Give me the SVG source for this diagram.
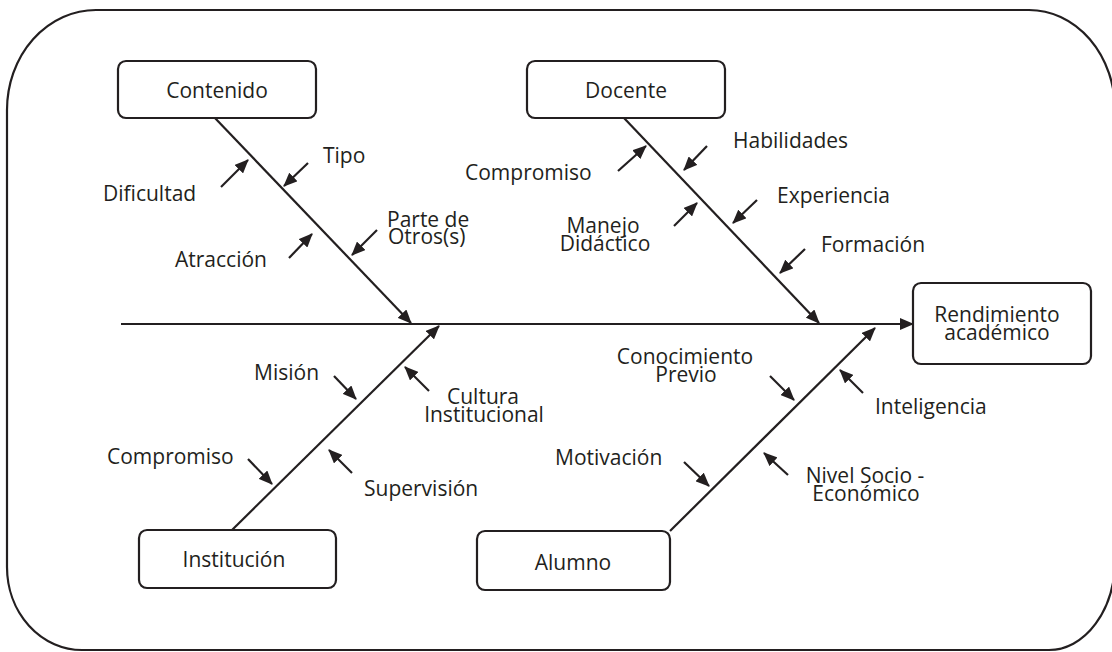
<svg xmlns="http://www.w3.org/2000/svg" width="1112" height="652" viewBox="0 0 1112 652">
<defs>
<marker id="ah" viewBox="0 0 14 12" refX="13" refY="6" markerWidth="14" markerHeight="12" markerUnits="userSpaceOnUse" orient="auto">
<path d="M0,0 L14,6 L0,12 Z" fill="#231f20"/>
</marker>
<style>
.t{font-family:"Open Sans","Liberation Sans",sans-serif;font-size:21px;fill:#231f20}
.m{text-anchor:middle}
.box{fill:#fff;stroke:#231f20;stroke-width:2.2}
.bone{stroke:#231f20;stroke-width:2.2;fill:none;marker-end:url(#ah)}
.sa{stroke:#231f20;stroke-width:2.2;fill:none;marker-end:url(#ah)}
</style>
</defs>
<rect width="1112" height="652" fill="#fff"/>
<path d="M96,10 H1029 A86,100 0 0 1 1115,110 V560 A66,90 0 0 1 1049,650 H82 A75,83 0 0 1 7,567 V110 A89,100 0 0 1 96,10 Z" fill="none" stroke="#231f20" stroke-width="2.2"/>

<g id="connectors">
<line class="bone" x1="121" y1="324" x2="913" y2="324"/>
<line class="bone" x1="214" y1="117" x2="411" y2="323"/>
<line class="bone" x1="624" y1="118" x2="819" y2="323"/>
<line class="bone" x1="232" y1="530" x2="439" y2="326"/>
<line class="bone" x1="670" y1="531" x2="875" y2="328"/>
<line class="sa" x1="221" y1="187" x2="248" y2="160"/>
<line class="sa" x1="308" y1="163" x2="284" y2="186"/>
<line class="sa" x1="289" y1="258" x2="312" y2="234"/>
<line class="sa" x1="377" y1="230" x2="352" y2="255"/>
<line class="sa" x1="618" y1="171" x2="646" y2="146"/>
<line class="sa" x1="707" y1="146" x2="684" y2="170"/>
<line class="sa" x1="757" y1="200" x2="733" y2="223"/>
<line class="sa" x1="674" y1="226" x2="697" y2="203"/>
<line class="sa" x1="805" y1="249" x2="780" y2="273"/>
<line class="sa" x1="334" y1="376" x2="356" y2="399"/>
<line class="sa" x1="429" y1="391" x2="405" y2="367"/>
<line class="sa" x1="248" y1="459" x2="272" y2="484"/>
<line class="sa" x1="352" y1="473" x2="329" y2="450"/>
<line class="sa" x1="770" y1="376" x2="794" y2="400"/>
<line class="sa" x1="863" y1="393" x2="840" y2="370"/>
<line class="sa" x1="684" y1="462" x2="709" y2="486"/>
<line class="sa" x1="788" y1="475" x2="764" y2="453"/>
</g>

<g id="contenido">
<rect class="box" x="118" y="61" width="198" height="57" rx="8"/>
<text class="t m" x="217" y="98">Contenido</text>
</g>
<g id="docente">
<rect class="box" x="527" y="61" width="198" height="57" rx="8"/>
<text class="t m" x="626" y="98">Docente</text>
</g>
<g id="rendimiento">
<rect class="box" x="913" y="283" width="178" height="81" rx="8"/>
<text class="t m" x="997" y="322">Rendimiento</text>
<text class="t m" x="997" y="340">académico</text>
</g>
<g id="institucion">
<rect class="box" x="139" y="530" width="197" height="58" rx="8"/>
<text class="t m" x="234" y="567">Institución</text>
</g>
<g id="alumno">
<rect class="box" x="477" y="531" width="193" height="59" rx="8"/>
<text class="t m" x="573" y="570">Alumno</text>
</g>

<g id="labels-contenido">
<text class="t" x="323" y="163">Tipo</text>
<text class="t" x="103" y="201">Dificultad</text>
<text class="t" x="175" y="267">Atracción</text>
<text class="t" x="387" y="227">Parte de</text>
<text class="t" x="388" y="244">Otros(s)</text>
</g>
<g id="labels-docente">
<text class="t" x="465" y="180">Compromiso</text>
<text class="t" x="733" y="148">Habilidades</text>
<text class="t" x="777" y="203">Experiencia</text>
<text class="t m" x="603" y="233">Manejo</text>
<text class="t m" x="605" y="251">Didáctico</text>
<text class="t" x="821" y="252">Formación</text>
</g>
<g id="labels-institucion">
<text class="t" x="254" y="380">Misión</text>
<text class="t m" x="483" y="404">Cultura</text>
<text class="t m" x="484" y="422">Institucional</text>
<text class="t" x="107" y="464">Compromiso</text>
<text class="t" x="364" y="496">Supervisión</text>
</g>
<g id="labels-alumno">
<text class="t m" x="685" y="364">Conocimiento</text>
<text class="t m" x="686" y="382">Previo</text>
<text class="t" x="875" y="414">Inteligencia</text>
<text class="t" x="555" y="465">Motivación</text>
<text class="t m" x="865" y="483">Nivel Socio -</text>
<text class="t m" x="866" y="501">Económico</text>
</g>
</svg>
